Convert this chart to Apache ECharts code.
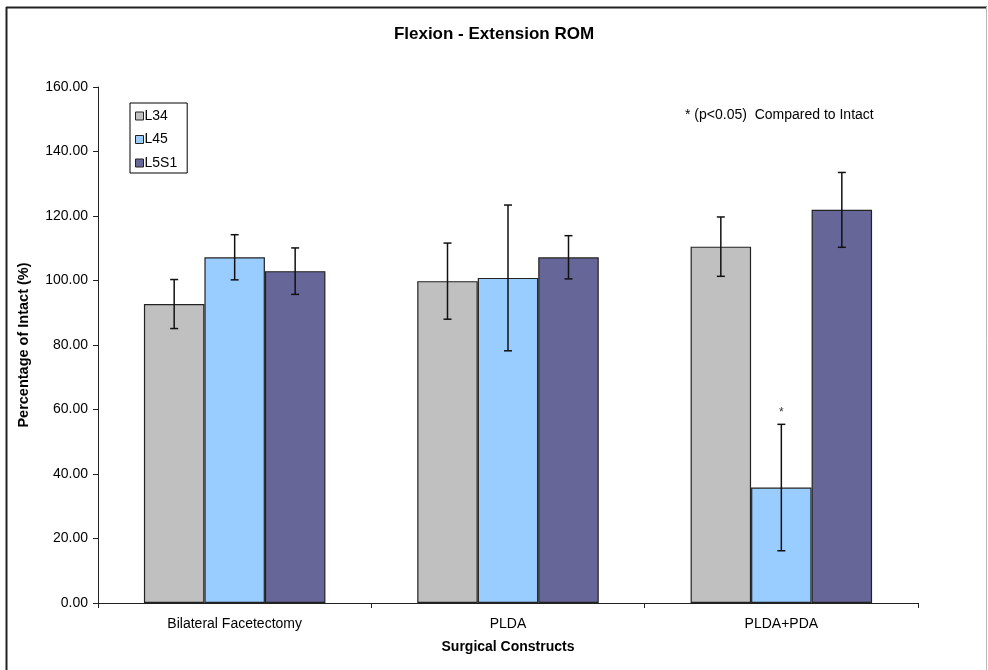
<!DOCTYPE html>
<html>
<head>
<meta charset="utf-8">
<script src="https://cdn.jsdelivr.net/npm/echarts@6/dist/echarts.min.js"></script>
<style>
html,body{margin:0;padding:0;background:#fff;}
#chart{width:988px;height:670px;}
</style>
</head>
<body>
<div id="chart"></div>
<script>
var categories = ['Bilateral Facetectomy', 'PLDA', 'PLDA+PDA'];
var seriesNames = ['L34', 'L45', 'L5S1'];
var l34 = [92.7, 99.8, 110.5];
var l45 = [107.2, 100.8, 35.8];
var l5s1 = [102.9, 107.2, 121.9];
var l34Err = [7.6, 11.8, 9.2];
var l45Err = [7.0, 22.6, 19.6];
var l5s1Err = [7.2, 6.7, 11.6];
var l45Sig = [false, false, true];
var yTicks = [0, 20, 40, 60, 80, 100, 120, 140, 160];
var colors = ['#C0C0C0', '#99CCFF', '#666699'];

var FONT = '"Liberation Sans", Arial, sans-serif';
var chart = echarts.init(document.getElementById('chart'));
var values = [l34, l45, l5s1];
var errs = [l34Err, l45Err, l5s1Err];
var sigs = [[false,false,false], l45Sig, [false,false,false]];
var GAP = 0.336;

function errSeries(idx) {
  var data = categories.map(function (c, i) { return [i, values[idx][i], errs[idx][i], sigs[idx][i] ? 1 : 0]; });
  return {
    type: 'custom',
    name: seriesNames[idx] + ' err',
    z: 10,
    silent: true,
    data: data,
    encode: { x: 0, y: 1 },
    renderItem: function (params, api) {
      var ci = api.value(0), v = api.value(1), e = api.value(2), s = api.value(3);
      var catW = api.size([1, 0])[0];
      var bw = catW * (1 - GAP) / 3;
      var c = api.coord([ci, v]);
      var x = c[0] + (idx - 1) * bw;
      var top = api.coord([ci, v + e])[1];
      var bot = api.coord([ci, v - e])[1];
      var cap = 4;
      var st = { stroke: '#111', lineWidth: 1.5 };
      var children = [
        { type: 'line', shape: { x1: x, y1: top, x2: x, y2: bot }, style: st },
        { type: 'line', shape: { x1: x - cap, y1: top, x2: x + cap, y2: top }, style: st },
        { type: 'line', shape: { x1: x - cap, y1: bot, x2: x + cap, y2: bot }, style: st }
      ];
      if (s) {
        children.push({ type: 'text', style: { text: '*', x: x, y: top - 12, align: 'center', verticalAlign: 'middle', font: '12px ' + FONT, fill: '#333' } });
      }
      return { type: 'group', children: children };
    }
  };
}

var barSeries = seriesNames.map(function (n, idx) {
  return {
    type: 'bar',
    name: n,
    data: values[idx],
    barGap: '0%',
    barCategoryGap: (GAP * 100) + '%',
    itemStyle: { color: colors[idx], borderColor: '#222', borderWidth: 1.2 }
  };
});

var option = {
  animation: false,
  backgroundColor: '#fff',
  title: {
    text: 'Flexion - Extension ROM',
    left: 'center', top: 21,
    textStyle: { fontFamily: FONT, fontSize: 17, fontWeight: 'bold', color: '#000' }
  },
  legend: {
    data: seriesNames,
    orient: 'vertical',
    left: 130, top: 103,
    padding: [6, 10, 3, 5],
    itemGap: 9.5,
    itemWidth: 8, itemHeight: 8,
    icon: 'rect',
    borderColor: '#000', borderWidth: 1,
    itemStyle: { borderColor: '#222', borderWidth: 1 },
    textStyle: { fontFamily: FONT, fontSize: 14, color: '#000', padding: [0, 0, 0, -4], lineHeight: 14 }
  },
  grid: { left: 98, right: 70, top: 87, bottom: 67, containLabel: false },
  xAxis: {
    type: 'category',
    data: categories,
    name: 'Surgical Constructs',
    nameLocation: 'middle',
    nameGap: 37,
    nameTextStyle: { fontFamily: FONT, fontSize: 14, fontWeight: 'bold', color: '#000' },
    axisLine: { lineStyle: { color: '#222', width: 1 } },
    axisTick: { show: true, length: 5, lineStyle: { color: '#222' } },
    axisLabel: { fontFamily: FONT, fontSize: 14, color: '#000', margin: 14 }
  },
  yAxis: {
    type: 'value',
    min: yTicks[0], max: yTicks[yTicks.length - 1], interval: yTicks[1] - yTicks[0],
    name: 'Percentage of Intact (%)',
    nameLocation: 'middle',
    nameGap: 67,
    nameTextStyle: { fontFamily: FONT, fontSize: 14.5, fontWeight: 'bold', color: '#000' },
    axisLine: { show: true, lineStyle: { color: '#222', width: 1 } },
    axisTick: { show: true, length: 5, lineStyle: { color: '#222' } },
    splitLine: { show: false },
    axisLabel: { fontFamily: FONT, fontSize: 14, color: '#000', margin: 10, formatter: function (v) { return v.toFixed(2); } }
  },
  graphic: [
    { type: 'line', shape: { x1: 6, y1: 7.5, x2: 987, y2: 7.5 }, style: { stroke: '#222', lineWidth: 2 } },
    { type: 'line', shape: { x1: 6.5, y1: 7, x2: 6.5, y2: 670 }, style: { stroke: '#222', lineWidth: 2 } },
    { type: 'line', shape: { x1: 986.5, y1: 7, x2: 986.5, y2: 670 }, style: { stroke: '#bbb', lineWidth: 1 } },
    { type: 'text', left: 685, top: 108, style: { text: '* (p<0.05)  Compared to Intact', font: '14px ' + FONT, fill: '#000' } }
  ],
  series: barSeries.concat([errSeries(0), errSeries(1), errSeries(2)])
};
chart.setOption(option);
</script>
</body>
</html>
